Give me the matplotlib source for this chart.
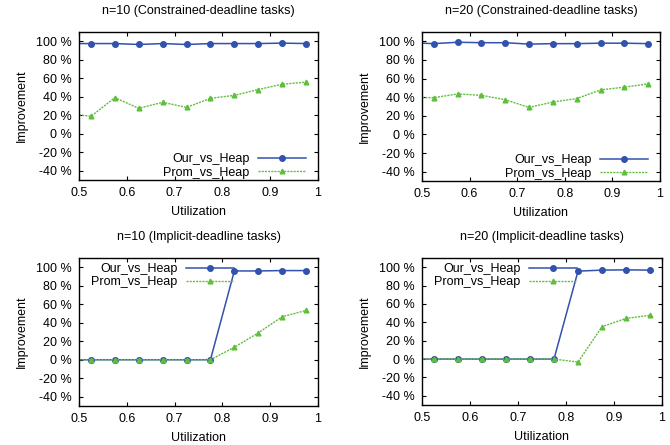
import matplotlib
matplotlib.use("Agg")
import matplotlib.pyplot as plt

plt.rcParams['font.family'] = ['Liberation Sans', 'DejaVu Sans']

util = [0.5, 0.525, 0.575, 0.625, 0.675, 0.725, 0.775, 0.825, 0.875, 0.925, 0.975]

titles = [
    "n=10 (Constrained-deadline tasks)",
    "n=20 (Constrained-deadline tasks)",
    "n=10 (Implicit-deadline tasks)",
    "n=20 (Implicit-deadline tasks)",
]

our_c10 = [97.5, 97.5, 97.5, 96.5, 97.5, 96.5, 97.5, 97.5, 97.5, 98, 97.5]
prom_c10 = [20.5, 18.8, 39, 27.5, 34, 28.5, 38.3, 41.5, 47.8, 53.5, 55.8]

our_c20 = [98, 97.5, 99, 98.5, 98.5, 97, 97.5, 97.5, 98, 98, 97.5]
prom_c20 = [39.5, 39.5, 43.5, 42, 37.3, 29, 34.8, 38.5, 47.8, 50.8, 54.3]

our_i10 = [0, 0, 0, 0, 0, 0, 0, 96, 96, 96.4, 96.4]
prom_i10 = [0, 0, 0, 0, 0, 0, 0, 13.5, 29, 46.5, 53.3]

our_i20 = [0, 0, 0, 0, 0, 0, 0, 95.7, 96.8, 97.1, 96.8]
prom_i20 = [0, 0, 0, 0, 0, 0, 0, -3.3, 35.2, 44.3, 47.6]

our_series = [our_c10, our_c20, our_i10, our_i20]
prom_series = [prom_c10, prom_c20, prom_i10, prom_i20]

yticks = [-40, -20, 0, 20, 40, 60, 80, 100]
ytick_labels = ["-40 %", "-20 %", "0 %", "20 %", "40 %", "60 %", "80 %", "100 %"]
xticks = [0.5, 0.6, 0.7, 0.8, 0.9, 1.0]
xtick_labels = ["0.5", "0.6", "0.7", "0.8", "0.9", "1"]

W, H = 670, 445
fig = plt.figure(figsize=(W / 100, H / 100), dpi=100)

# pixel boxes: (left, top, right, bottom)
boxes = [
    (79, 32, 318, 180),
    (422, 32, 660, 181),
    (79, 258, 318, 406),
    (422, 258, 662, 405),
]

BLUE = "#3152ad"
GREEN = "#5fbf3c"
FS = 9

for i, (l, t, r, b) in enumerate(boxes):
    ax = fig.add_axes([l / W, 1 - b / H, (r - l) / W, (b - t) / H])
    ax.plot(util, our_series[i], color=BLUE, lw=1.1, marker='o', ms=4.0,
            markevery=slice(1, None), label="Our_vs_Heap")
    ax.plot(util, prom_series[i], color=GREEN, lw=1.0, ls=(0, (1.5, 0.8)),
            marker='^', ms=3.4, markevery=slice(1, None), label="Prom_vs_Heap")
    ax.set_xlim(0.5, 1.0)
    ax.set_ylim(-50, 110)
    ax.set_xticks(xticks)
    ax.set_xticklabels(xtick_labels, fontsize=FS)
    ax.set_yticks(yticks)
    ax.set_yticklabels(ytick_labels, fontsize=FS)
    ax.tick_params(direction='in', top=True, right=True, length=3, width=0.8,
                   pad=5, colors='black')
    for s in ax.spines.values():
        s.set_linewidth(1.0)
    ax.set_xlabel("Utilization", fontsize=FS, labelpad=5)
    ax.set_ylabel("Improvement", fontsize=FS, labelpad=6)
    ax.set_title(titles[i], fontsize=FS, pad=13)
    if i < 2:
        ax.legend(loc='lower right', bbox_to_anchor=(0.97, -0.025), frameon=False,
                  markerfirst=False, fontsize=FS, handlelength=3.8,
                  handletextpad=0.7, numpoints=1, labelspacing=0.12,
                  borderaxespad=0.0)
    else:
        ax.legend(loc='upper left', bbox_to_anchor=(0.03, 1.0), frameon=False,
                  markerfirst=False, fontsize=FS, handlelength=3.8,
                  handletextpad=0.7, numpoints=1, labelspacing=0.12,
                  borderaxespad=0.0)

fig.savefig("out.png", dpi=100)
